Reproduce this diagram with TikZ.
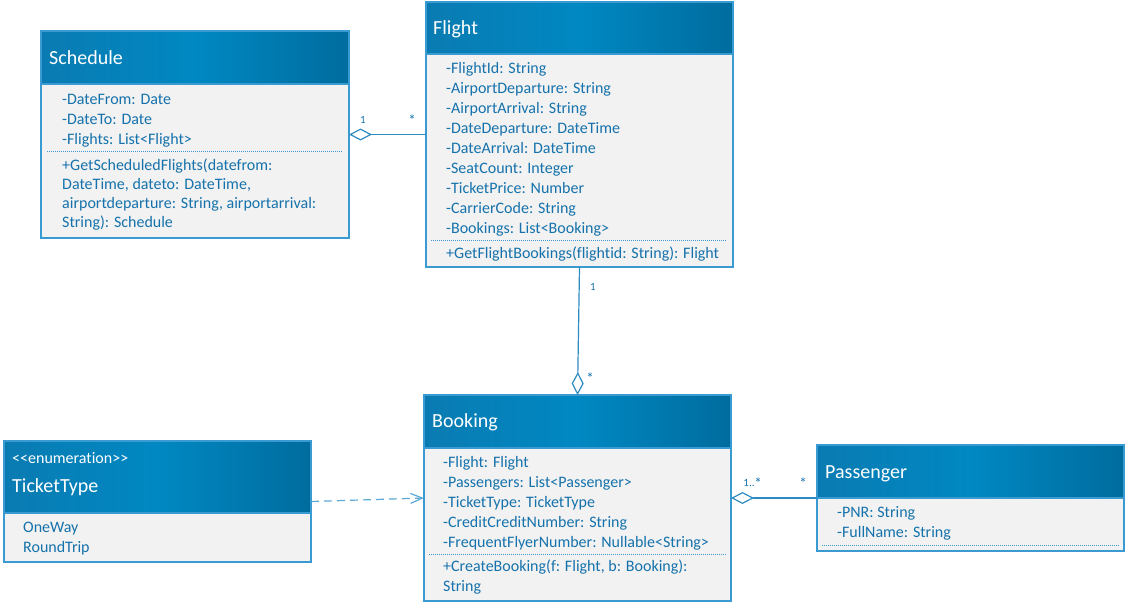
\documentclass[tikz,border=0pt]{standalone}
\usepackage{fontspec}
\setmainfont[Ligatures={NoCommon}]{Carlito}
\usetikzlibrary{arrows.meta,calc}
\definecolor{hdrA}{HTML}{0A7BB2}
\definecolor{hdrB}{HTML}{0088C2}
\definecolor{hdrC}{HTML}{006C9E}
\definecolor{bodyfill}{HTML}{F2F2F2}
\definecolor{edge}{HTML}{3A9BD2}
\definecolor{txt}{HTML}{1572AC}
\definecolor{conn}{HTML}{2D8BC2}
\definecolor{dashc}{HTML}{5AAAD6}
\definecolor{dotc}{HTML}{3E9AD0}
\tikzset{
 classbody/.style={draw=edge, line width=1.5pt, fill=bodyfill, rectangle, inner sep=0pt, outer sep=0pt, anchor=north west},
 classhead/.style={rectangle, inner sep=0pt, outer sep=0pt, anchor=north west, left color=hdrA, right color=hdrC, middle color=hdrB, draw=edge, line width=1.5pt},
 title/.style={anchor=base west, inner sep=0pt, text=white, font=\fontsize{20}{24}\selectfont},
 stereo/.style={anchor=base west, inner sep=0pt, text=white, font=\fontsize{16}{20}\selectfont},
 members/.style={anchor=north west, inner sep=0pt, text=txt, align=left, font=\fontsize{16}{20}\selectfont},
 members19/.style={members, font=\fontsize{16}{19}\selectfont},
 sepline/.style={draw=dotc, line width=1pt, dash pattern=on 1pt off 1pt},
 mult/.style={anchor=base, inner sep=0pt, text=txt, font=\fontsize{11}{13}\selectfont},
 star/.style={mult, font=\fontsize{15}{17}\selectfont},
 assoc/.style={draw=conn, line width=1.2pt},
 aggr/.style={assoc, {Diamond[open, length=23pt, width=12pt, line width=1.2pt]}-},
 dep/.style={draw=dashc, line width=1.2pt, dash pattern=on 8pt off 5pt, -{Straight Barb[length=12pt, width=10pt, line width=1.2pt]}},
}
\begin{document}
\begin{tikzpicture}[x=1pt,y=-1pt]
\useasboundingbox (0,0) rectangle (1126,605);

% ---------- Schedule ----------
\node[classbody, minimum width=308pt, minimum height=207pt] (schedule) at (41,31) {};
\node[classhead, minimum width=308pt, minimum height=53pt] (scheduleh) at (41,31) {};
\node[title] (schedulet) at (49,64) {Schedule};
\node[members] (schedulea) at (62,90) {\strut-DateFrom: Date\\-DateTo: Date\\-Flights: List<Flight>};
\draw[sepline] (47,151) -- (343,151);
\node[members19] (schedulem) at (62,156.7) {\strut+GetScheduledFlights(datefrom:\\DateTime, dateto: DateTime,\\airportdeparture: String, airportarrival:\\String): Schedule};

% ---------- Flight ----------
\node[classbody, minimum width=307pt, minimum height=265pt] (flight) at (426,2) {};
\node[classhead, minimum width=307pt, minimum height=52pt] (flighth) at (426,2) {};
\node[title] (flightt) at (433,34) {Flight};
\node[members] (flighta) at (446,59) {\strut-FlightId: String\\-AirportDeparture: String\\-AirportArrival: String\\-DateDeparture: DateTime\\-DateArrival: DateTime\\-SeatCount: Integer\\-TicketPrice: Number\\-CarrierCode: String\\-Bookings: List<Booking>};
\draw[sepline] (431,240) -- (727,240);
\node[members] (flightm) at (446,244) {\strut+GetFlightBookings(flightid: String): Flight};

% ---------- Booking ----------
\node[classbody, minimum width=307pt, minimum height=206pt] (booking) at (424,395) {};
\node[classhead, minimum width=307pt, minimum height=53pt] (bookingh) at (424,395) {};
\node[title] (bookingt) at (432,427) {Booking};
\node[members] (bookinga) at (443,453) {\strut-Flight: Flight\\-Passengers: List<Passenger>\\-TicketType: TicketType\\-CreditCreditNumber: String\\-FrequentFlyerNumber: Nullable<String>};
\draw[sepline] (429,554) -- (726,554);
\node[members] (bookingm) at (443,557) {\strut+CreateBooking(f: Flight, b: Booking):\\String};

% ---------- TicketType ----------
\node[classbody, minimum width=307pt, minimum height=121pt] (tickettype) at (4,441) {};
\node[classhead, minimum width=307pt, minimum height=72pt] (tickettypeh) at (4,441) {};
\node[stereo] (tickettypes) at (12,463) {<{}<enumeration>{}>};
\node[title] (tickettypet) at (12,492) {TicketType};
\node[members] (tickettypea) at (23,518) {\strut OneWay\\RoundTrip};

% ---------- Passenger ----------
\node[classbody, minimum width=307pt, minimum height=106pt] (passenger) at (817,445) {};
\node[classhead, minimum width=307pt, minimum height=53pt] (passengerh) at (817,445) {};
\node[title] (passengert) at (825,478) {Passenger};
\node[members] (passengera) at (837,503) {\strut-PNR: String\\-FullName: String};
\draw[sepline] (822,545) -- (1119,545);

% ---------- Connectors ----------
\draw[aggr] (schedule.east |- flight.west) -- (flight.west);
\draw[aggr] (booking.north) -- (flight.south);
\draw[aggr] (booking.east) -- (passenger.west);
\draw[dep] (tickettype.east) -- (booking.west);

% ---------- Multiplicities ----------
\node[mult] (m1) at (363,123) {1};
\node[star] (m2) at (412,125) {*};
\node[mult] (m3) at (593,290) {1};
\node[star] (m4) at (590,383) {*};
\node[mult] (m5) at (749,486) {1..};
\node[star] (m5s) at (758,488) {*};
\node[star] (m6) at (803,488) {*};
\end{tikzpicture}
\end{document}
